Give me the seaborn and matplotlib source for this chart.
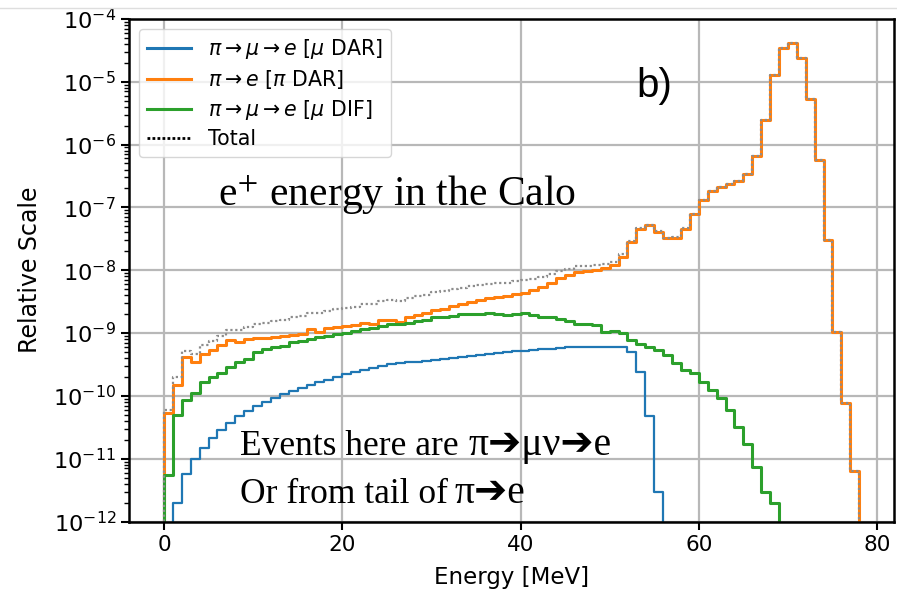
import numpy as np
import pandas as pd
import matplotlib
matplotlib.use("Agg")
import matplotlib.pyplot as plt
from matplotlib.lines import Line2D
from matplotlib.ticker import LogLocator, NullFormatter, FixedLocator
import seaborn as sns

# ---------------- data (1 MeV bins starting at 0 MeV) ----------------
bin_start = 0
pi_mu_e_dar = [0, 2.0e-12, 5.6e-12, 9.8e-12, 1.5e-11, 2.1e-11, 2.9e-11, 3.7e-11, 4.8e-11, 5.8e-11,
               6.9e-11, 8.1e-11, 9.3e-11, 1.07e-10, 1.2e-10, 1.35e-10, 1.48e-10, 1.66e-10, 1.82e-10, 2.0e-10,
               2.2e-10, 2.4e-10, 2.57e-10, 2.75e-10, 3.0e-10, 3.16e-10, 3.3e-10, 3.4e-10, 3.5e-10, 3.6e-10,
               3.7e-10, 3.85e-10, 4.0e-10, 4.15e-10, 4.3e-10, 4.45e-10, 4.6e-10, 4.75e-10, 4.9e-10, 5.1e-10,
               5.25e-10, 5.4e-10, 5.5e-10, 5.6e-10, 5.75e-10, 5.9e-10, 5.95e-10, 6.0e-10, 6.0e-10, 6.0e-10,
               6.0e-10, 5.9e-10, 5.0e-10, 2.4e-10, 4.7e-11, 2.9e-12]
pi_e_dar = [5.4e-11, 1.5e-10, 4.2e-10, 3.4e-10, 4.6e-10, 5.3e-10, 6.4e-10, 7.8e-10, 7.2e-10, 7.9e-10,
            8.2e-10, 8.3e-10, 8.5e-10, 8.9e-10, 9.4e-10, 9.7e-10, 1.15e-9, 1.04e-9, 1.2e-9, 1.23e-9,
            1.28e-9, 1.33e-9, 1.45e-9, 1.38e-9, 1.62e-9, 1.6e-9, 1.5e-9, 1.78e-9, 1.95e-9, 2.1e-9,
            2.3e-9, 2.45e-9, 2.7e-9, 2.9e-9, 3.15e-9, 3.4e-9, 3.55e-9, 3.8e-9, 3.9e-9, 4.2e-9,
            4.4e-9, 4.8e-9, 5.5e-9, 6.3e-9, 7.4e-9, 8.3e-9, 9.5e-9, 9.8e-9, 1.0e-8, 1.1e-8,
            1.2e-8, 1.62e-8, 2.8e-8, 4.6e-8, 5.2e-8, 4.1e-8, 3.2e-8, 3.3e-8, 4.6e-8, 7.9e-8,
            1.3e-7, 1.8e-7, 2.1e-7, 2.35e-7, 2.6e-7, 3.4e-7, 6.5e-7, 2.45e-6, 1.26e-5, 3.4e-5,
            4.2e-5, 2.35e-5, 5.4e-6, 5.6e-7, 3.0e-8, 1.05e-9, 7.8e-11, 6.3e-12]
pi_mu_e_dif = [5.4e-12, 5.0e-11, 8.5e-11, 1.1e-10, 1.66e-10, 2.0e-10, 2.35e-10, 2.9e-10, 3.4e-10, 3.8e-10,
               4.9e-10, 5.5e-10, 6.0e-10, 6.3e-10, 7.1e-10, 7.5e-10, 8.0e-10, 8.5e-10, 9.0e-10, 9.5e-10,
               1.0e-9, 1.07e-9, 1.15e-9, 1.2e-9, 1.28e-9, 1.38e-9, 1.4e-9, 1.45e-9, 1.58e-9, 1.62e-9,
               1.78e-9, 1.8e-9, 1.85e-9, 1.98e-9, 2.0e-9, 2.0e-9, 2.1e-9, 1.98e-9, 1.95e-9, 2.0e-9,
               2.05e-9, 1.95e-9, 1.82e-9, 1.8e-9, 1.66e-9, 1.58e-9, 1.38e-9, 1.38e-9, 1.35e-9, 1.05e-9,
               1.07e-9, 1.0e-9, 7.8e-10, 6.8e-10, 6.0e-10, 5.4e-10, 4.5e-10, 3.3e-10, 2.6e-10, 2.35e-10,
               1.66e-10, 1.26e-10, 9.1e-11, 6.0e-11, 3.2e-11, 1.74e-11, 7.4e-12, 2.95e-12, 2.0e-12]

labels = [r"$\pi\rightarrow\mu\rightarrow e$ [$\mu$ DAR]",
          r"$\pi\rightarrow e$ [$\pi$ DAR]",
          r"$\pi\rightarrow\mu\rightarrow e$ [$\mu$ DIF]",
          "Total"]
colors = ["#1f77b4", "#ff7f0e", "#2ca02c"]
x_ticks = [0, 20, 40, 60, 80]
y_ticks = [1e-12, 1e-11, 1e-10, 1e-9, 1e-8, 1e-7, 1e-6, 1e-5, 1e-4]

# ---------------- build histogram table ----------------
n_bins = 80
lo = bin_start - 1  # one empty bin before 0
centers = np.arange(n_bins) + lo + 0.5


def padded(vals):
    out = np.zeros(n_bins)
    out[1:1 + len(vals)] = vals
    return out


series = {
    "blue": padded(pi_mu_e_dar),
    "orange": padded(pi_e_dar),
    "green": padded(pi_mu_e_dif),
}
series["total"] = series["blue"] + series["orange"] + series["green"]
df = pd.DataFrame({"energy": centers, **series})

# ---------------- figure ----------------
W, H = 897, 594
fig = plt.figure(figsize=(W / 100, H / 100), dpi=100)
ax = fig.add_axes([129.2 / W, 1 - 521.5 / H, (894 - 129.2) / W, (521.5 - 18.9) / H])

widths = {"blue": 1.6, "orange": 2.2, "green": 2.2}
for key, col in zip(["blue", "orange", "green"], colors):
    sns.histplot(data=df, x="energy", weights=key, binwidth=1, binrange=(lo, lo + n_bins),
                 element="step", fill=False, color=col, linewidth=widths[key], ax=ax)
sns.histplot(data=df, x="energy", weights="total", binwidth=1, binrange=(lo, lo + n_bins),
             element="step", fill=False, color="#8c8c8c", linewidth=1.6,
             linestyle=(0, (1, 1.2)), ax=ax)

ax.set_yscale("log")
ax.set_ylim(1e-12, 1e-4)
ax.set_xlim(-3.9, 81.9)
ax.set_xticks(x_ticks)
ax.yaxis.set_major_locator(FixedLocator(y_ticks))
ax.yaxis.set_minor_locator(LogLocator(base=10, subs=np.arange(2, 10), numticks=100))
ax.yaxis.set_minor_formatter(NullFormatter())
ax.grid(True, which="major", color="#b8b8b8", linewidth=1.6)
ax.set_axisbelow(True)
for s in ax.spines.values():
    s.set_linewidth(1.8)
    s.set_color("black")
ax.tick_params(axis="x", which="major", labelsize=15.5, length=6, width=1.5)
ax.tick_params(axis="y", which="major", labelsize=16.2, length=6, width=1.5)
ax.tick_params(axis="y", which="minor", length=3.5, width=1.0)
ax.set_xlabel("Energy [MeV]", fontsize=16.5, labelpad=8)
ax.set_ylabel("Relative Scale", fontsize=17, labelpad=8)

handles = [Line2D([], [], color=colors[0], lw=2.2),
           Line2D([], [], color=colors[1], lw=2.2),
           Line2D([], [], color=colors[2], lw=2.2),
           Line2D([], [], color="black", lw=2.0, linestyle=(0, (1, 0.8)))]
ax.legend(handles, labels, loc="upper left", fontsize=14.8, handlelength=2.15,
          borderaxespad=0.47, labelspacing=0.34)

# annotations
serif = ["Liberation Serif", "DejaVu Sans"]
fig.text(218 / W, 1 - 206 / H, r"e$^{+}$ energy in the Calo", fontsize=30,
         family=serif, math_fontfamily="stix", ha="left", va="baseline")
fig.text(240 / W, 1 - 455 / H, "Events here are", fontsize=25.5,
         family=serif, ha="left", va="baseline")
fig.text(469 / W, 1 - 455 / H, "\u03c0\u2794\u03bc\u03bd\u2794e", fontsize=28.5,
         family=serif, ha="left", va="baseline")
fig.text(240 / W, 1 - 503 / H, "Or from tail of", fontsize=25.5,
         family=serif, ha="left", va="baseline")
fig.text(455 / W, 1 - 503 / H, "\u03c0\u2794e", fontsize=28.5,
         family=serif, ha="left", va="baseline")
fig.text(636 / W, 1 - 97 / H, "b)", fontsize=29, family=["Liberation Sans", "DejaVu Sans"],
         ha="left", va="baseline")

# thin screenshot separator line at the top
fig.add_artist(Line2D([0, 1], [1 - 8 / H, 1 - 8 / H], color="#dedede", lw=1.0,
                      transform=fig.transFigure))

fig.savefig("out.png", dpi=100)
